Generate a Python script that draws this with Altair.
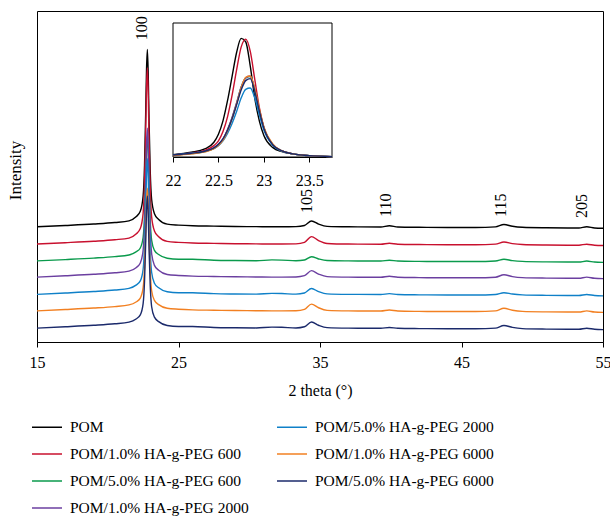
import altair as alt
import pandas as pd

FONT = "Liberation Serif"

SERIES = [
    "POM",
    "POM/1.0% HA-g-PEG 600",
    "POM/5.0% HA-g-PEG 600",
    "POM/1.0% HA-g-PEG 2000",
    "POM/5.0% HA-g-PEG 2000",
    "POM/1.0% HA-g-PEG 6000",
    "POM/5.0% HA-g-PEG 6000",
]
COLORS = ["#000000", "#c8102e", "#0a9a4c", "#6b3fa0", "#0f80c8", "#f28022", "#1b2a6b"]

# 2 theta grid of the main patterns
X_MAIN = [15, 17, 19, 20.5, 21.5, 22.0, 22.3, 22.5, 22.6, 22.68, 22.74, 22.8, 22.86, 22.92,
          23.0, 23.1, 23.3, 23.6, 24.2, 25, 26, 27.5, 29, 30.5, 31.6, 32.3, 33.3, 33.9, 34.4,
          34.9, 35.5, 37, 39.3, 39.9, 40.5, 42, 44, 46, 47.4, 48.0, 48.6, 49.3, 51, 52.5,
          53.3, 53.85, 54.4, 55]

# intensities as displayed (stacked, arbitrary units)
pom = [34.8, 35.2, 35.65, 36.1, 36.6, 37.83, 39.48, 44.12, 53.41, 68.89, 82.31, 88.4, 81.08,
       66.53, 51.98, 43.11, 38.78, 37.03, 35.6, 35.3, 35.1, 35.0, 34.9, 34.85, 34.8, 34.8,
       34.85, 35.19, 36.55, 35.62, 34.94, 34.8, 34.75, 35.1, 34.75, 34.65, 34.6, 34.6, 34.78,
       35.5, 34.96, 34.65, 34.5, 34.45, 34.45, 34.8, 34.45, 34.35]
p1_600 = [29.6, 30.0, 30.45, 30.9, 31.4, 32.62, 34.26, 38.87, 48.08, 63.44, 76.76, 82.8, 75.53,
          61.1, 46.66, 37.86, 33.56, 31.82, 30.4, 30.1, 29.9, 29.8, 29.7, 29.65, 29.6, 29.6,
          29.65, 30.09, 31.85, 30.64, 29.78, 29.6, 29.55, 29.85, 29.55, 29.45, 29.4, 29.4,
          29.57, 30.2, 29.73, 29.45, 29.3, 29.25, 29.25, 29.55, 29.25, 29.15]
p5_600 = [24.5, 24.9, 25.35, 25.8, 26.3, 27.22, 28.4, 31.64, 38.12, 48.92, 58.28, 62.5, 57.36,
          47.18, 37.0, 30.78, 27.7, 26.42, 25.3, 25.0, 25.0, 24.7, 24.6, 24.55, 24.8, 24.75,
          24.55, 24.79, 25.75, 25.09, 24.6, 24.5, 24.45, 24.7, 24.45, 24.35, 24.3, 24.3, 24.46,
          25.0, 24.59, 24.35, 24.2, 24.15, 24.15, 24.45, 24.15, 24.05]
p1_2000 = [19.6, 20.0, 20.45, 20.9, 21.4, 22.46, 23.85, 27.72, 35.46, 48.36, 59.54, 64.6, 58.48,
           46.34, 34.2, 26.79, 23.15, 21.66, 20.4, 20.1, 19.9, 19.8, 19.7, 19.65, 19.6, 19.6,
           19.65, 20.03, 21.55, 20.51, 19.75, 19.6, 19.55, 19.85, 19.55, 19.45, 19.4, 19.4,
           19.58, 20.3, 19.76, 19.45, 19.3, 19.25, 19.25, 19.6, 19.25, 19.15]
p5_2000 = [14.4, 14.8, 15.25, 15.7, 16.2, 17.18, 18.45, 21.96, 28.98, 40.68, 50.82, 55.4, 49.84,
           38.82, 27.8, 21.07, 17.75, 16.38, 15.2, 14.9, 14.9, 14.6, 14.5, 14.45, 14.7, 14.65,
           14.45, 14.79, 16.15, 15.22, 14.54, 14.4, 14.35, 14.6, 14.35, 14.25, 14.2, 14.2,
           14.36, 14.9, 14.49, 14.25, 14.1, 14.05, 14.05, 14.35, 14.05, 13.95]
p1_6000 = [9.4, 9.8, 10.25, 10.7, 11.2, 12.1, 13.26, 16.41, 22.73, 33.26, 42.39, 46.5, 41.49,
           31.56, 21.63, 15.56, 12.56, 11.3, 10.2, 9.9, 9.7, 9.6, 9.5, 9.45, 9.4, 9.4, 9.45,
           9.85, 11.45, 10.35, 9.56, 9.4, 9.35, 9.65, 9.35, 9.25, 9.2, 9.2, 9.39, 10.2, 9.6,
           9.25, 9.1, 9.05, 9.05, 9.4, 9.05, 8.95]
p5_6000 = [4.2, 4.6, 5.05, 5.5, 6.0, 6.96, 8.2, 11.61, 18.43, 29.8, 39.65, 44.1, 38.69, 27.98,
           17.27, 10.73, 7.5, 6.16, 5.0, 4.7, 4.7, 4.4, 4.3, 4.25, 4.5, 4.45, 4.25, 4.61, 6.05,
           5.06, 4.34, 4.2, 4.15, 4.4, 4.15, 4.05, 4.0, 4.0, 4.19, 5.0, 4.4, 4.05, 3.9, 3.85,
           3.85, 4.15, 3.85, 3.75]
Y_MAIN = [pom, p1_600, p5_600, p1_2000, p5_2000, p1_6000, p5_6000]

# inset: (100) reflection
X_INSET = [22.0, 22.2, 22.35, 22.45, 22.5, 22.55, 22.6, 22.65, 22.7, 22.75, 22.8, 22.85, 22.9,
           22.95, 23.0, 23.1, 23.2, 23.35, 23.5, 23.75]
i_pom = [1.8, 3.5, 6, 11, 17, 27, 42, 60, 78, 88.5, 86, 68, 44, 27, 16, 7, 4, 2, 1, 0.3]
i_p1_600 = [1.5, 3, 5, 8.5, 12, 19, 30, 46, 65, 82, 88, 79, 58, 37, 22, 9, 4.5, 2, 1, 0.3]
i_p5_600 = [1.2, 2.5, 4, 6.5, 9, 13, 20, 29, 40, 52, 59, 60, 50, 35, 22, 9, 4.5, 2, 1, 0.3]
i_p1_2000 = [1.3, 2.6, 4.2, 6.8, 9.5, 13.5, 20.5, 29.5, 40.5, 52, 59, 60.5, 50.5, 35, 22, 9, 4.5, 2, 1, 0.3]
i_p5_2000 = [1.6, 2.8, 4.2, 6.3, 8.5, 12, 17.5, 25, 34, 44, 50.5, 51.5, 44, 31.5, 20, 8.5, 4.2, 2, 1, 0.3]
i_p1_6000 = [1.0, 2.3, 3.8, 6.2, 8.7, 12.5, 19.5, 28.5, 39.5, 51.5, 59.5, 60.5, 51, 36, 22.5, 9.5, 4.5, 2, 1, 0.3]
i_p5_6000 = [1.5, 2.8, 4.3, 6.8, 9.5, 13.5, 20, 28.5, 39, 50, 57, 58.5, 49, 34.5, 21.5, 9, 4.5, 2, 1, 0.3]
Y_INSET = [i_pom, i_p1_600, i_p5_600, i_p1_2000, i_p5_2000, i_p1_6000, i_p5_6000]

PEAK_LABELS = ["100", "105", "110", "115", "205"]
PEAK_LABEL_X = [22.40, 34.06, 39.64, 47.79, 53.52]
PEAK_LABEL_Y = [91.2, 39.0, 37.8, 37.8, 37.5]

X_TICKS = [15, 25, 35, 45, 55]
X_DOMAIN = [15, 55]
Y_DOMAIN = [0, 100]
INSET_TICKS = [22, 22.5, 23, 23.5]
INSET_X_DOMAIN = [22, 23.75]
INSET_Y_DOMAIN = [0, 100]

for ys in Y_MAIN:
    assert len(ys) == len(X_MAIN)
for ys in Y_INSET:
    assert len(ys) == len(X_INSET)

color_scale = alt.Scale(domain=SERIES, range=COLORS)
legend = alt.Legend(
    title=None, orient="none", legendX=-6, legendY=400, columns=2,
    symbolType="stroke", symbolSize=900, symbolStrokeWidth=1.5,
    labelFont=FONT, labelFontSize=15.5, labelColor="black", labelLimit=0,
    rowPadding=2, columnPadding=25, labelOffset=7, padding=0,
)

x_main = alt.X("x:Q", scale=alt.Scale(domain=X_DOMAIN, nice=False, zero=False),
               axis=alt.Axis(values=X_TICKS, title="2 theta (°)", grid=False, tickSize=5,
                             labelPadding=7, titlePadding=12, labelFlush=False,
                             labelFont=FONT, labelFontSize=16))
y_main = alt.Y("y:Q", scale=alt.Scale(domain=Y_DOMAIN, nice=False, zero=False),
               axis=alt.Axis(title="Intensity", labels=False, ticks=False, domain=False,
                             grid=False, titlePadding=13, titleFontSize=17, titleY=159))
color_enc = alt.Color("series:N", scale=color_scale, legend=legend)

main_layers = []
for name, ys in zip(SERIES, Y_MAIN):
    df = pd.DataFrame({"x": X_MAIN, "y": ys, "series": name})
    main_layers.append(
        alt.Chart(df).mark_line(strokeWidth=1.4, interpolate="monotone", clip=True)
        .encode(x=x_main, y=y_main, color=color_enc)
    )

labels_df = pd.DataFrame({"x": PEAK_LABEL_X, "y": PEAK_LABEL_Y, "label": PEAK_LABELS})
labels = alt.Chart(labels_df).mark_text(
    angle=270, align="left", baseline="middle", font=FONT, fontSize=16, color="black"
).encode(x=x_main, y=y_main, text="label:N")

main = alt.layer(*main_layers, labels)

x_in = alt.X("x:Q", scale=alt.Scale(domain=INSET_X_DOMAIN, range=[136, 295], nice=False, zero=False),
             axis=alt.Axis(values=INSET_TICKS, orient="bottom", offset=-185, title=None,
                           grid=False, tickSize=5, labelPadding=10, labelFlush=False,
                           labelFont=FONT, labelFontSize=16,
                           labelExpr="'' + datum.value"))
y_in = alt.Y("y:Q", scale=alt.Scale(domain=INSET_Y_DOMAIN, range=[146, 12], nice=False, zero=False),
             axis=None)

box_df = pd.DataFrame({"x": [INSET_X_DOMAIN[0]], "x2": [INSET_X_DOMAIN[1]],
                       "y": [INSET_Y_DOMAIN[0]], "y2": [INSET_Y_DOMAIN[1]]})
box = alt.Chart(box_df).mark_rect(fill="white", stroke="black", strokeWidth=1).encode(
    x=x_in, x2="x2:Q", y=y_in, y2="y2:Q")

inset_layers = [box]
for name, ys in zip(SERIES, Y_INSET):
    df = pd.DataFrame({"x": X_INSET, "y": ys, "series": name})
    inset_layers.append(
        alt.Chart(df).mark_line(strokeWidth=1.4, interpolate="monotone")
        .encode(x=x_in, y=y_in, color=color_enc)
    )
inset = alt.layer(*inset_layers)

chart = alt.layer(main, inset).resolve_scale(x="independent", y="independent").properties(
    width=566, height=331, autosize=alt.AutoSizeParams(type="none"),
    padding={"left": 37, "top": 11, "right": 7, "bottom": 175},
    background="white",
).configure_view(stroke="black", strokeWidth=1).configure_axis(
    domainColor="black", tickColor="black", labelColor="black", titleColor="black",
    labelFont=FONT, titleFont=FONT, labelFontSize=16, titleFontSize=16,
    titleFontWeight="normal", domainWidth=1, tickWidth=1,
)

chart.save("out.html", embed_options={"renderer": "svg", "actions": False})
